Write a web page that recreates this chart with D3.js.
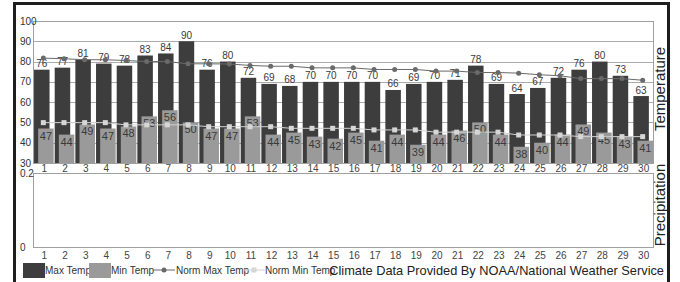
<!DOCTYPE html>
<html>
<head>
<meta charset="utf-8">
<script src="https://cdn.jsdelivr.net/npm/d3@7"></script>
<style>
    body { margin: 0; background: #fff; }
    svg text { font-family: "Liberation Sans", Arial, sans-serif; }
</style>
</head>
<body>
<div id="chart"></div>
<script>
// data
var days = [1,2,3,4,5,6,7,8,9,10,11,12,13,14,15,16,17,18,19,20,21,22,23,24,25,26,27,28,29,30];
var maxTemp = [76,77,81,79,78,83,84,90,76,80,72,69,68,70,70,70,70,66,69,70,71,78,69,64,67,72,76,80,73,63];
var minTemp = [47,44,49,47,48,53,56,50,47,47,53,44,45,43,42,45,41,44,39,44,46,50,44,38,40,44,49,45,43,41];
var normMax = [81.7,81.4,80.9,80.9,80.5,80,80,78.9,78.9,78.8,78.1,77.7,77.7,76.9,76.9,76.9,76.1,76.1,76.1,75.3,75.3,74.6,74.6,74.3,73.5,73,71.6,71.6,71.6,70.8];
var normMin = [49.9,49.9,49.9,49.9,48.8,48.8,48.8,48.8,47.9,47.9,47.9,47.9,47.1,47.1,47.1,47.1,46.3,46.3,46.3,45.2,45.2,45.2,45.2,43.8,43.8,43.8,43,43,43,43];
var precip = [0,0,0,0,0,0,0,0,0,0,0,0,0,0,0,0,0,0,0,0,0,0,0,0,0,0,0,0,0,0];
var tempTicks = [30,40,50,60,70,80,90,100];
var precipTicks = [0,0.2];
var legendItems = ["Max Temp","Min Temp","Norm Max Temp","Norm Min Temp"];
var creditText = "Climate Data Provided By NOAA/National Weather Service";

var W = 680, H = 282;
var left = 33, right = 653;
var tTop = 21, tBottom = 163;   // temperature panel
var pTop = 173, pBottom = 247;  // precipitation panel

var svg = d3.select("#chart").append("svg")
    .attr("width", W)
    .attr("height", H);

var x = d3.scaleBand().domain(days).range([left, right]);
var bw = x.bandwidth();
var yT = d3.scaleLinear().domain([30, 100]).range([tBottom, tTop]);
var yP = d3.scaleLinear().domain([0, 0.2]).range([pBottom, pTop]);

// outer black frame
svg.append("path")
    .attr("d", "M14.5," + H + "V3.5H668.5V" + H)
    .attr("fill", "none")
    .attr("stroke", "#1e1e1e")
    .attr("stroke-width", 3);

// gridlines temp
svg.append("g").selectAll("line").data(tempTicks).join("line")
    .attr("x1", left).attr("x2", right)
    .attr("y1", function (d) { return Math.round(yT(d)) + 0.5; })
    .attr("y2", function (d) { return Math.round(yT(d)) + 0.5; })
    .attr("stroke", "#ababab");

var rows = days.map(function (d, i) {
    return {day: d, max: maxTemp[i], min: minTemp[i], nmax: normMax[i], nmin: normMin[i], p: precip[i]};
});

// max temp bars
svg.append("g").selectAll("rect").data(rows).join("rect")
    .attr("x", function (d) { return x(d.day) + bw * 0.05; })
    .attr("y", function (d) { return yT(d.max); })
    .attr("width", bw * 0.75)
    .attr("height", function (d) { return tBottom - yT(d.max); })
    .attr("fill", "#3d3d3d");

// min temp bars, drawn on top, shifted right
svg.append("g").selectAll("rect").data(rows).join("rect")
    .attr("x", function (d) { return x(d.day) + bw * 0.25; })
    .attr("y", function (d) { return yT(d.min); })
    .attr("width", bw * 0.75)
    .attr("height", function (d) { return tBottom - yT(d.min); })
    .attr("fill", "#9a9a9a");

// value labels
svg.append("g").selectAll("text").data(rows).join("text")
    .attr("x", function (d) { return x(d.day) + bw * 0.425; })
    .attr("y", function (d) { return yT(d.max) - 2.5; })
    .attr("text-anchor", "middle")
    .attr("font-size", 10)
    .attr("fill", "#3a3a3a")
    .text(function (d) { return d.max; });

svg.append("g").selectAll("text").data(rows).join("text")
    .attr("x", function (d) { return x(d.day) + bw * 0.625; })
    .attr("y", function (d) { return yT(d.min) + 11; })
    .attr("text-anchor", "middle")
    .attr("font-size", 11)
    .attr("fill", "#3a3a3a")
    .text(function (d) { return d.min; });

// normal lines
var cx = function (d) { return x(d.day) + bw / 2; };
svg.append("path").datum(rows)
    .attr("fill", "none").attr("stroke", "#6a6a6a").attr("stroke-width", 1)
    .attr("d", d3.line().x(cx).y(function (d) { return yT(d.nmax); }));
svg.append("g").selectAll("circle").data(rows).join("circle")
    .attr("cx", cx).attr("cy", function (d) { return yT(d.nmax); })
    .attr("r", 2.5).attr("fill", "#6a6a6a");

svg.append("path").datum(rows)
    .attr("fill", "none").attr("stroke", "#d2d2d2").attr("stroke-width", 1)
    .attr("d", d3.line().x(cx).y(function (d) { return yT(d.nmin); }));
svg.append("g").selectAll("rect").data(rows).join("rect")
    .attr("x", function (d) { return cx(d) - 2.5; })
    .attr("y", function (d) { return yT(d.nmin) - 2.5; })
    .attr("width", 5).attr("height", 5)
    .attr("fill", "#d6d6d6");

// precipitation bars (all zero this month)
svg.append("g").selectAll("rect").data(rows).join("rect")
    .attr("x", function (d) { return x(d.day) + bw * 0.15; })
    .attr("y", function (d) { return yP(d.p); })
    .attr("width", bw * 0.7)
    .attr("height", function (d) { return pBottom - yP(d.p); })
    .attr("fill", "#3d3d3d");

// panel frames
[[tTop, tBottom], [pTop, pBottom]].forEach(function (p) {
    svg.append("rect")
        .attr("x", left + 0.5).attr("y", p[0] + 0.5)
        .attr("width", right - left).attr("height", p[1] - p[0])
        .attr("fill", "none").attr("stroke", "#a0a0a0");
});

// y tick labels
svg.append("g").selectAll("text").data(tempTicks).join("text")
    .attr("x", 20).attr("y", function (d) { return yT(d) + 3.5; })
    .attr("font-size", 10).attr("fill", "#333")
    .text(function (d) { return d; });
svg.append("g").selectAll("text").data(precipTicks).join("text")
    .attr("x", 20).attr("y", function (d) { return yP(d) + 3.5; })
    .attr("font-size", 10).attr("fill", "#333")
    .text(function (d) { return d; });

// day labels under each panel
[tBottom + 9, pBottom + 12].forEach(function (yy) {
    svg.append("g").selectAll("text").data(days).join("text")
        .attr("x", function (d) { return x(d) + bw / 2 + 1; })
        .attr("y", yy)
        .attr("text-anchor", "middle")
        .attr("font-size", 10).attr("fill", "#444")
        .text(function (d) { return d; });
});

// panel titles on the right
svg.append("text")
    .attr("transform", "translate(665," + ((tTop + tBottom) / 2 - 3) + ") rotate(-90)")
    .attr("text-anchor", "middle").attr("font-size", 15).attr("fill", "#222")
    .text("Temperature");
svg.append("text")
    .attr("transform", "translate(665," + ((pTop + pBottom) / 2 - 5) + ") rotate(-90)")
    .attr("text-anchor", "middle").attr("font-size", 15).attr("fill", "#222")
    .text("Precipitation");

// legend
var lg = svg.append("g").attr("font-size", 10).attr("fill", "#333");
var ly = 270;
lg.append("rect").attr("x", 23).attr("y", 263).attr("width", 22).attr("height", 15).attr("fill", "#3d3d3d");
lg.append("text").attr("x", 45).attr("y", ly + 3.5).text(legendItems[0]);
lg.append("rect").attr("x", 89).attr("y", 263).attr("width", 22).attr("height", 15).attr("fill", "#9a9a9a");
lg.append("text").attr("x", 111).attr("y", ly + 3.5).text(legendItems[1]);
lg.append("line").attr("x1", 153).attr("x2", 175).attr("y1", ly).attr("y2", ly).attr("stroke", "#6a6a6a");
lg.append("circle").attr("cx", 164).attr("cy", ly).attr("r", 2.5).attr("fill", "#6a6a6a");
lg.append("text").attr("x", 176).attr("y", ly + 3.5).text(legendItems[2]);
lg.append("line").attr("x1", 243).attr("x2", 265).attr("y1", ly).attr("y2", ly).attr("stroke", "#d2d2d2");
lg.append("rect").attr("x", 251.5).attr("y", ly - 2.5).attr("width", 5).attr("height", 5).attr("fill", "#d6d6d6");
lg.append("text").attr("x", 265).attr("y", ly + 3.5).text(legendItems[3]);

svg.append("text")
    .attr("x", 664).attr("y", 275)
    .attr("text-anchor", "end")
    .attr("font-size", 12.8).attr("fill", "#222")
    .text(creditText);
</script>
</body>
</html>
